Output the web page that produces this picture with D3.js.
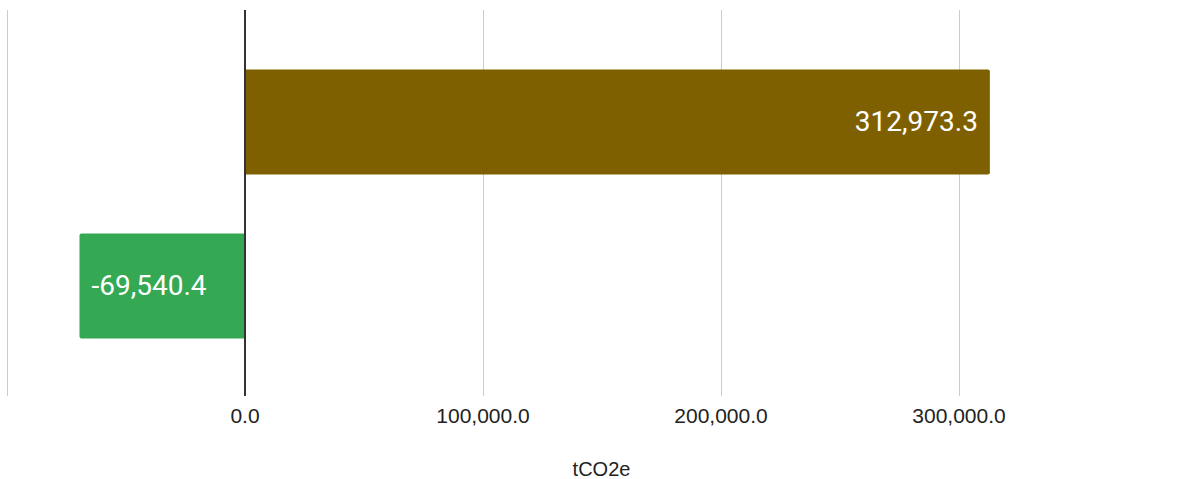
<!DOCTYPE html>
<html>
<head>
<meta charset="utf-8">
<script src="https://cdn.jsdelivr.net/npm/d3@7"></script>
<style>
  html, body { margin: 0; padding: 0; background: #fff; }
  svg { display: block; }
</style>
</head>
<body>
<svg id="chart" width="1188" height="479"></svg>
<script>
// ---- data ----
const categories = ["Emissions", "Removals"];
const values = [312973.3, -69540.4];
const barColors = ["#7f6000", "#34a853"];
const gridValues = [-100000, 0, 100000, 200000, 300000, 400000];
const tickValues = [0, 100000, 200000, 300000];
const tickLabels = ["0.0", "100,000.0", "200,000.0", "300,000.0"];
const axisTitle = "tCO2e";

// ---- layout ----
const W = 1188, H = 479;
const plotTop = 10, plotBottom = 396;
const svg = d3.select("#chart");

const x = d3.scaleLinear().domain([-100000, 400000]).range([7, 1197]);
const y = d3.scaleBand().domain(categories).range([40, 368]).paddingInner(0.36).paddingOuter(0.18);

// gridlines
svg.append("g").selectAll("line").data(gridValues.filter(v => v !== 0)).join("line")
  .attr("x1", d => Math.round(x(d)) + 0.5).attr("x2", d => Math.round(x(d)) + 0.5)
  .attr("y1", plotTop).attr("y2", plotBottom)
  .attr("stroke", "#cccccc").attr("stroke-width", 1);

// bars with rounded outer corners
function barPath(v, yy, h) {
  const x0 = x(0), x1 = x(v), r = 2;
  if (v >= 0) {
    return `M${x0},${yy}H${x1 - r}Q${x1},${yy} ${x1},${yy + r}V${yy + h - r}Q${x1},${yy + h} ${x1 - r},${yy + h}H${x0}Z`;
  } else {
    return `M${x0},${yy}H${x1 + r}Q${x1},${yy} ${x1},${yy + r}V${yy + h - r}Q${x1},${yy + h} ${x1 + r},${yy + h}H${x0}Z`;
  }
}
const data = categories.map((c, i) => ({ c, v: values[i], color: barColors[i] }));
svg.append("g").selectAll("path").data(data).join("path")
  .attr("d", d => barPath(d.v, y(d.c), y.bandwidth()))
  .attr("fill", d => d.color);

// bar labels
const fmt = d3.format(",.1f");
svg.append("g").selectAll("text").data(data).join("text")
  .attr("x", d => d.v >= 0 ? x(d.v) - 12 : x(d.v) + 12)
  .attr("y", d => y(d.c) + y.bandwidth() / 2 + 9)
  .attr("text-anchor", d => d.v >= 0 ? "end" : "start")
  .attr("fill", "#ffffff")
  .style("font-family", "Roboto, 'Noto Sans', sans-serif")
  .style("font-size", "28px")
  .text(d => fmt(d.v).replace("−", "-"));

// zero line
svg.append("line")
  .attr("x1", x(0)).attr("x2", x(0))
  .attr("y1", plotTop).attr("y2", plotBottom)
  .attr("stroke", "#333333").attr("stroke-width", 2);

// tick labels
svg.append("g").selectAll("text").data(tickValues).join("text")
  .attr("x", d => x(d))
  .attr("y", 423)
  .attr("text-anchor", "middle")
  .attr("fill", "#222222")
  .style("font-family", "Arial, 'Liberation Sans', sans-serif")
  .style("font-size", "21px")
  .text((d, i) => tickLabels[i]);

// axis title
svg.append("text")
  .attr("x", 601.5).attr("y", 476)
  .attr("text-anchor", "middle")
  .attr("fill", "#222222")
  .style("font-family", "Arial, 'Liberation Sans', sans-serif")
  .style("font-size", "20px")
  .text(axisTitle);
</script>
</body>
</html>
